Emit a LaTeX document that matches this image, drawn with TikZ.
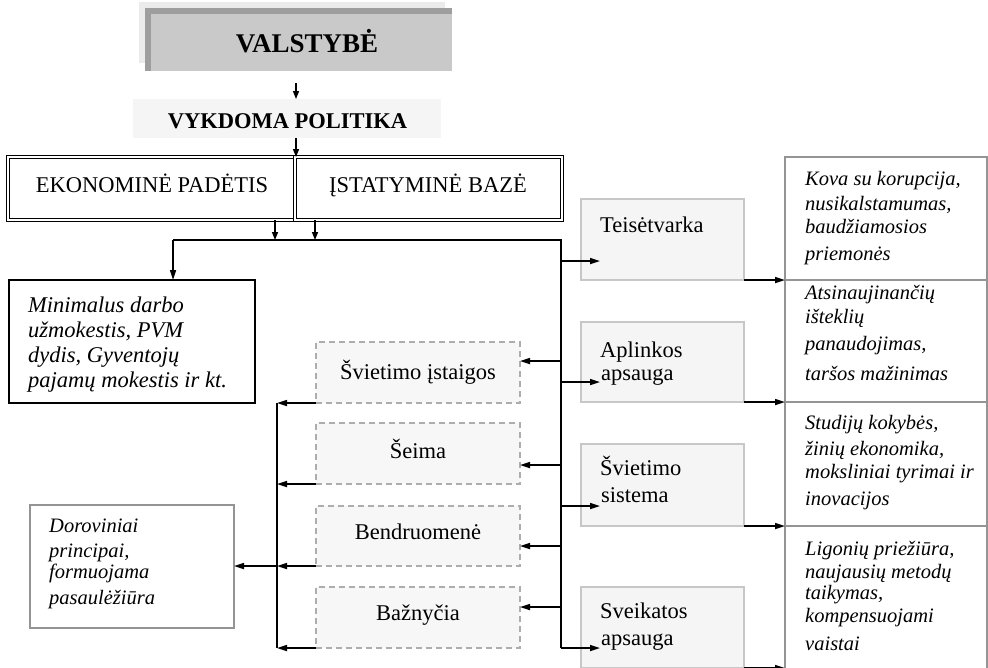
\documentclass[tikz,border=0pt]{standalone}
\usepackage{fontspec}
\setmainfont{Liberation Serif}
\usetikzlibrary{arrows.meta,calc}
\newcommand\fbig{\fontsize{22.5pt}{25pt}\selectfont}
\newcommand\fsmall{\fontsize{20.5pt}{24pt}\selectfont}
\begin{document}
\begin{tikzpicture}[x=1pt,y=-1pt,
  conn/.style={line width=1.6pt,-{Triangle[length=10pt,width=6pt]}},
  sconn/.style={line width=1.4pt,-{Triangle[length=8pt,width=6pt]}},
  bus/.style={line width=1.6pt},
  boxbase/.style={anchor=north west,inner sep=0pt,outer sep=0pt},
  dblbox/.style={boxbase,draw,double,double distance=1.8pt,line width=0.9pt},
  thickbox/.style={boxbase,draw,line width=2pt,fill=white},
  midbox/.style={boxbase,draw=black!22,fill=black!4,line width=1.5pt},
  farbox/.style={boxbase,draw=black!42,fill=white,line width=1.3pt},
  dashbox/.style={boxbase,draw=black!32,fill=black!3,line width=1.4pt,dash pattern=on 6pt off 4pt},
  txt/.style={anchor=base west,inner sep=0pt,font=\fbig},
  ctxt/.style={anchor=base,inner sep=0pt,font=\fbig},
  itb/.style={anchor=base west,inner sep=0pt,font=\fbig\itshape},
  its/.style={anchor=base west,inner sep=0pt,font=\fsmall\itshape}]
\useasboundingbox[fill=white] (0,0) rectangle (988,667);

% VALSTYBE
\fill[black!8] (139,2) rectangle (445,63);
\node[boxbase,fill=black!21,minimum width=307pt,minimum height=63pt] (valbox) at (145,8) {};
\fill[black!38] (145,8) rectangle (452,14);
\fill[black!38] (145,8) rectangle (151,71);
\node[ctxt,font=\bfseries\fontsize{27pt}{30pt}\selectfont] (valtxt) at (307,52) {VALSTYBĖ};

% VYKDOMA POLITIKA
\node[boxbase,fill=black!4,minimum width=308pt,minimum height=39pt] (polbox) at (133,99) {};
\node[ctxt,font=\bfseries\fbig] (poltxt) at (287.5,128) {VYKDOMA POLITIKA};

\coordinate (a1) at (296,83);
\draw[sconn] (a1) -- (a1 |- polbox.north);

% double boxes
\node[dblbox,minimum width=287pt,minimum height=63pt] (ekon) at (8,157) {};
\node[dblbox,minimum width=267pt,minimum height=63pt] (istat) at (295,157) {};
\node[ctxt] (ekontxt) at (152,192) {EKONOMINĖ PADĖTIS};
\node[ctxt] (istattxt) at (428,192) {ĮSTATYMINĖ BAZĖ};
\coordinate (a2) at (296,138);
\draw[sconn] (a2) -- (a2 |- ekon.north);

% bus
\coordinate (jL) at (173,240);
\coordinate (jR) at (561,240);
\coordinate (jB) at (561,648);
\coordinate (d1) at (275,240);
\coordinate (d2) at (315,240);
\draw[sconn] (ekon.south -| d1) -- (d1);
\draw[sconn] (istat.south -| d2) -- (d2);
\draw[bus] (jB) -- (jR) -- (jL);

% Minimalus
\node[thickbox,minimum width=246pt,minimum height=123pt] (minb) at (9,280) {};
\draw[conn] (jL) -- (jL |- minb.north);
\node[itb] (m1) at (28,312) {Minimalus darbo};
\node[itb] (m2) at (28,337) {užmokestis, PVM};
\node[itb] (m3) at (28,362) {dydis, Gyventojų};
\node[itb] (m4) at (28,387) {pajamų mokestis ir kt.};

% middle right boxes
\node[midbox,minimum width=163pt,minimum height=81pt] (teis) at (581,199) {};
\node[midbox,minimum width=163pt,minimum height=80pt] (apl) at (581,322) {};
\node[midbox,minimum width=163pt,minimum height=82pt] (sviet) at (581,444) {};
\node[midbox,minimum width=163pt,minimum height=81pt] (sveik) at (581,587) {};
\node[txt] (teistxt) at (600,232) {Teisėtvarka};
\node[txt] (apltxt1) at (600,357) {Aplinkos};
\node[txt] (apltxt2) at (601,380) {apsauga};
\node[txt] (svtxt1) at (600,475) {Švietimo};
\node[txt] (svtxt2) at (601,502) {sistema};
\node[txt] (sktxt1) at (600,618) {Sveikatos};
\node[txt] (sktxt2) at (601,645) {apsauga};

% far right boxes
\node[farbox,minimum width=202pt,minimum height=123pt] (kova) at (785,157) {};
\node[farbox,minimum width=202pt,minimum height=122pt] (atsi) at (785,280) {};
\node[farbox,minimum width=202pt,minimum height=124pt] (stud) at (785,402) {};
\node[farbox,minimum width=202pt,minimum height=150pt] (lig) at (785,526) {};

\node[its] (k1) at (805,185) {Kova su korupcija,};
\node[its] (k2) at (805,210) {nusikalstamumas,};
\node[its] (k3) at (805,233) {baudžiamosios};
\node[its] (k4) at (805,260) {priemonės};

\node[its] (at1) at (805,299) {Atsinaujinančių};
\node[its] (at2) at (805,323) {išteklių};
\node[its] (at3) at (805,350) {panaudojimas,};
\node[its] (at4) at (805,380) {taršos mažinimas};

\node[its] (s1) at (805,429) {Studijų kokybės,};
\node[its] (s2) at (805,455) {žinių ekonomika,};
\node[its] (s3) at (805,478) {moksliniai tyrimai ir};
\node[its] (s4) at (805,505) {inovacijos};

\node[its] (l1) at (805,555) {Ligonių priežiūra,};
\node[its] (l2) at (805,578) {naujausių metodų};
\node[its] (l3) at (805,599) {taikymas,};
\node[its] (l4) at (805,622) {kompensuojami};
\node[its] (l5) at (805,650) {vaistai};

% arrows trunk -> middle right boxes
\coordinate (t1) at (600,261);
\coordinate (t2) at (600,382);
\coordinate (t3) at (600,506);
\coordinate (t4) at (600,648);
\draw[conn] (t1 -| jR) -- (t1);
\draw[conn] (t2 -| jR) -- (t2);
\draw[conn] (t3 -| jR) -- (t3);
\draw[conn] (jB) -- (t4);

% arrows middle -> far right
\draw[conn] (teis.south east) -- (teis.south east -| kova.west);
\draw[conn] (apl.south east) -- (apl.south east -| atsi.west);
\draw[conn] (sviet.south east) -- (sviet.south east -| stud.west);
\draw[conn] (sveik.south east) -- (sveik.south east -| lig.west);

% dashed boxes
\node[dashbox,minimum width=204pt,minimum height=61pt] (sia) at (316,342) {};
\node[dashbox,minimum width=204pt,minimum height=61pt] (seima) at (316,423) {};
\node[dashbox,minimum width=204pt,minimum height=60pt] (bend) at (316,506) {};
\node[dashbox,minimum width=204pt,minimum height=61pt] (baz) at (316,587) {};
\node[ctxt] (siatxt) at (418,379) {Švietimo įstaigos};
\node[ctxt] (seimatxt) at (418,458) {Šeima};
\node[ctxt] (bendtxt) at (418,539) {Bendruomenė};
\node[ctxt] (baztxt) at (418,620) {Bažnyčia};

% trunk -> dashed boxes
\coordinate (u1) at (561,361);
\coordinate (u2) at (561,465);
\coordinate (u3) at (561,546);
\coordinate (u4) at (561,607);
\draw[conn] (u1) -- (u1 -| sia.east);
\draw[conn] (u2) -- (u2 -| seima.east);
\draw[conn] (u3) -- (u3 -| bend.east);
\draw[conn] (u4) -- (u4 -| baz.east);

% left trunk
\coordinate (kL) at (277,403);
\coordinate (kB) at (277,648);
\draw[bus] (kL) -- (kB);
\node[farbox,minimum width=204pt,minimum height=123pt] (dor) at (30,505) {};
\draw[conn] (sia.south west) -- (sia.south west -| kL);
\draw[conn] (seima.south west) -- (seima.south west -| kL);
\draw[conn] (bend.south west) -- (bend.south west -| kL);
\draw[conn] (bend.south west -| kL) -- (bend.south west -| dor.east);
\draw[conn] (baz.south west) -- (baz.south west -| kL);

\node[its] (o1) at (49,532) {Doroviniai};
\node[its] (o2) at (49,557) {principai,};
\node[its] (o3) at (49,578) {formuojama};
\node[its] (o4) at (49,604) {pasaulėžiūra};
\end{tikzpicture}
\end{document}
